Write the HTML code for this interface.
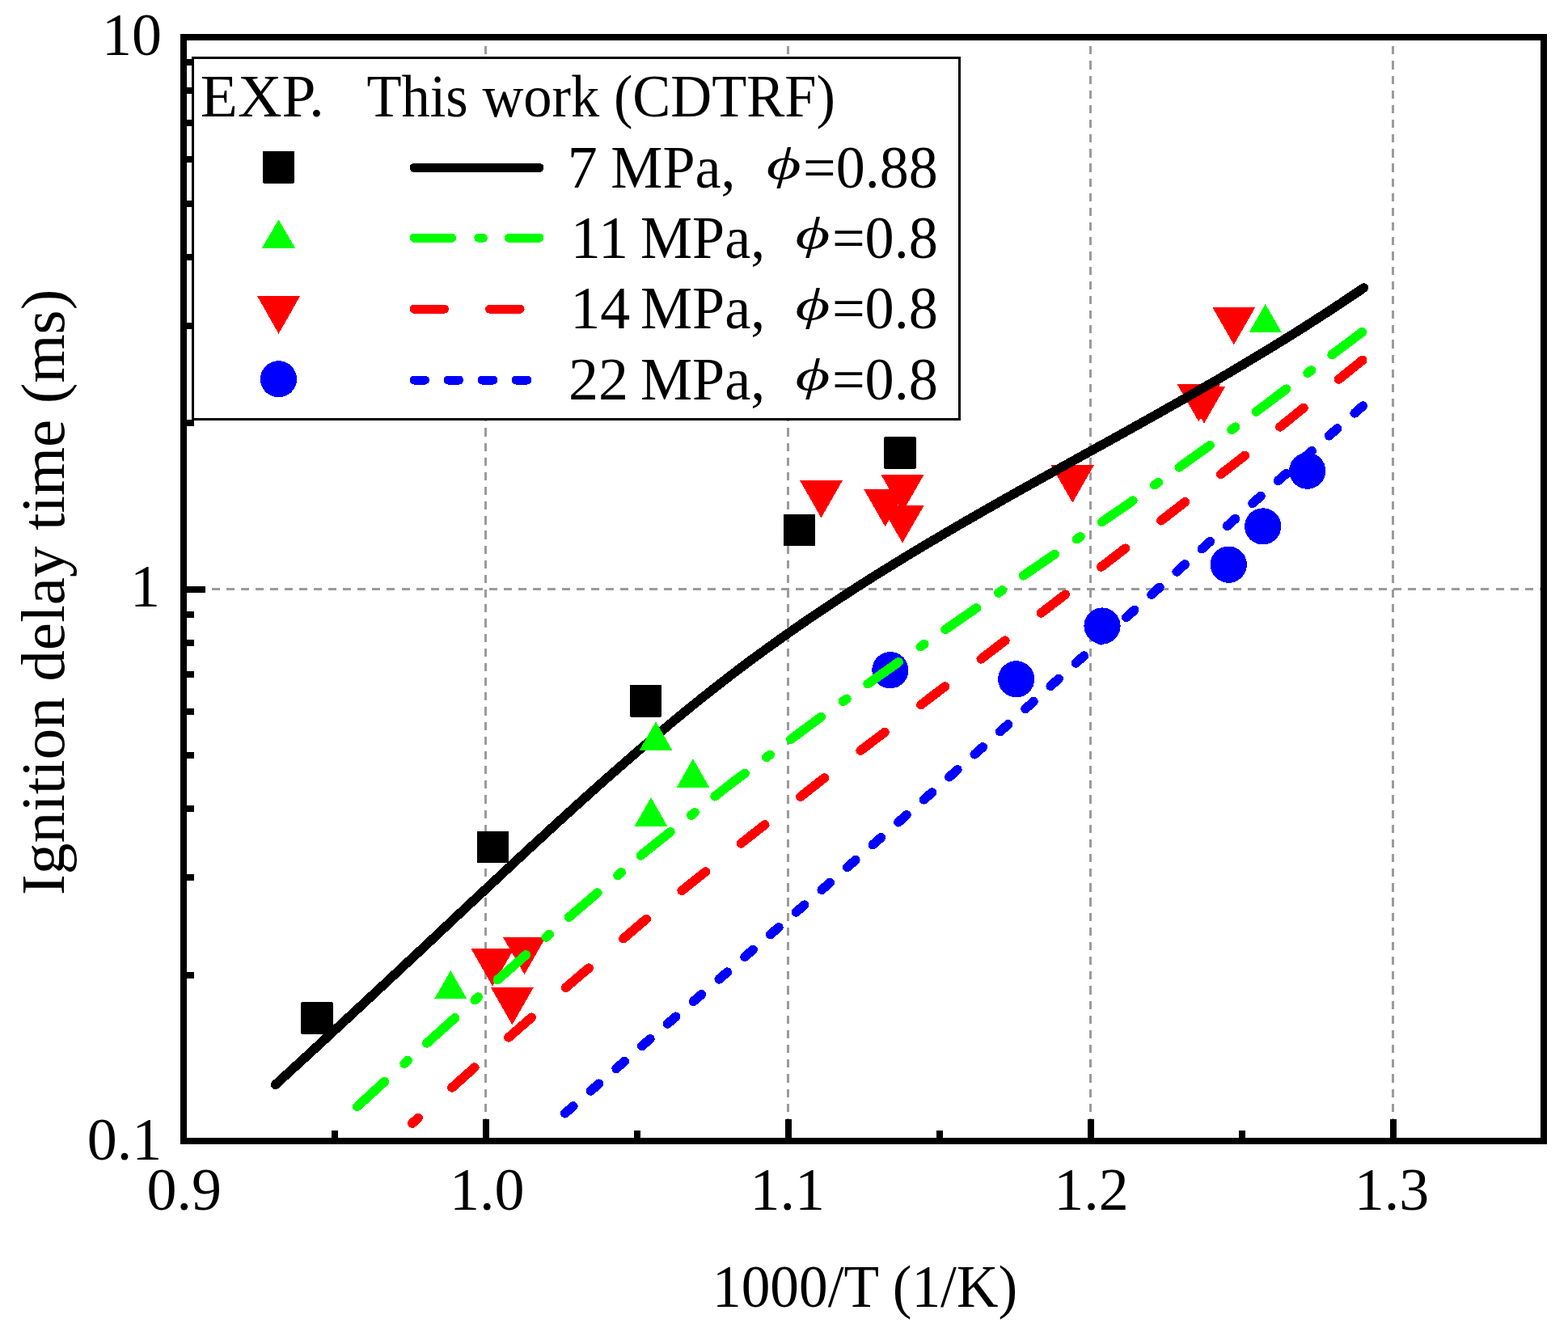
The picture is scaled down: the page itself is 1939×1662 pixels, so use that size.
<!DOCTYPE html>
<html><head><meta charset="utf-8"><title>Ignition delay time</title>
<style>html,body{margin:0;padding:0;background:#fff;}svg{display:block;}
text{font-family:"Liberation Serif",serif;fill:#000;}</style></head>
<body>
<svg width="1939" height="1662" viewBox="0 0 1939 1662" shape-rendering="crispEdges">
<rect x="0" y="0" width="1939" height="1662" fill="#fff"/>
<g stroke="#9b9b9b" stroke-width="3" fill="none">
<line x1="600.5" y1="50" x2="600.5" y2="1407" stroke-dasharray="10.2 7.96" stroke-dashoffset="-7.2"/>
<line x1="974.5" y1="50" x2="974.5" y2="1407" stroke-dasharray="10.2 7.96" stroke-dashoffset="-7.2"/>
<line x1="1348.5" y1="50" x2="1348.5" y2="1407" stroke-dasharray="10.2 7.96" stroke-dashoffset="-7.2"/>
<line x1="1722.5" y1="50" x2="1722.5" y2="1407" stroke-dasharray="10.2 7.96" stroke-dashoffset="-7.2"/>
<line x1="231" y1="728.5" x2="1905" y2="728.5" stroke-dasharray="10 8.04" stroke-dashoffset="-12.96"/>
</g>
<rect x="372.2" y="1239.2" width="39.5" height="39.5" rx="1.5" fill="#000"/>
<rect x="589.8" y="1027.5" width="39.5" height="39.5" rx="1.5" fill="#000"/>
<rect x="778.8" y="847.2" width="39.5" height="39.5" rx="1.5" fill="#000"/>
<rect x="968.6" y="635.5" width="39.5" height="39.5" rx="1.5" fill="#000"/>
<rect x="1093.2" y="540.2" width="39.5" height="39.5" rx="1.5" fill="#000"/>
<polygon points="582.6,1173.3 635.6,1173.3 609.1,1219.6" fill="#ff0000"/>
<polygon points="622.0,1158.9 675.0,1158.9 648.5,1205.2" fill="#ff0000"/>
<polygon points="606.9,1221.0 659.9,1221.0 633.4,1267.3" fill="#ff0000"/>
<polygon points="989.0,594.0 1042.0,594.0 1015.5,640.3" fill="#ff0000"/>
<polygon points="1068.2,605.1 1121.2,605.1 1094.7,651.4" fill="#ff0000"/>
<polygon points="1089.5,587.2 1142.5,587.2 1116.0,633.5" fill="#ff0000"/>
<polygon points="1089.5,625.3 1142.5,625.3 1116.0,671.6" fill="#ff0000"/>
<polygon points="1299.8,575.4 1352.8,575.4 1326.3,621.7" fill="#ff0000"/>
<polygon points="1455.8,475.3 1508.8,475.3 1482.3,521.6" fill="#ff0000"/>
<polygon points="1462.5,477.5 1515.5,477.5 1489.0,523.8" fill="#ff0000"/>
<polygon points="1499.3,380.0 1552.3,380.0 1525.8,426.3" fill="#ff0000"/>
<circle cx="1100.9" cy="828.7" r="22.6" fill="#0000ff"/>
<circle cx="1256.7" cy="839.8" r="22.6" fill="#0000ff"/>
<circle cx="1363.0" cy="774.0" r="22.6" fill="#0000ff"/>
<circle cx="1519.3" cy="698.2" r="22.6" fill="#0000ff"/>
<circle cx="1561.7" cy="650.9" r="22.6" fill="#0000ff"/>
<circle cx="1616.7" cy="582.2" r="22.6" fill="#0000ff"/>
<polyline points="340.6,1341.4 355.7,1327.5 370.8,1313.7 386.0,1299.7 401.1,1285.8 416.2,1271.8 431.3,1257.8 446.4,1243.8 461.6,1229.7 476.7,1215.6 491.8,1201.5 506.9,1187.3 522.1,1173.2 537.2,1159.0 552.3,1144.8 567.4,1130.6 582.5,1116.4 597.7,1102.3 612.8,1088.2 627.9,1074.1 643.0,1060.0 658.1,1046.0 673.3,1032.1 688.4,1018.2 703.5,1004.5 718.6,990.8 733.8,977.2 748.9,963.8 764.0,950.5 779.1,937.3 794.2,924.3 809.4,911.4 824.5,898.7 839.6,886.1 854.7,873.8 869.8,861.6 885.0,849.7 900.1,837.9 915.2,826.4 930.3,815.1 945.5,804.0 960.6,793.1 975.7,782.4 990.8,771.9 1005.9,761.5 1021.1,751.4 1036.2,741.4 1051.3,731.5 1066.4,721.8 1081.5,712.2 1096.7,702.8 1111.8,693.5 1126.9,684.3 1142.0,675.2 1157.2,666.2 1172.3,657.3 1187.4,648.5 1202.5,639.8 1217.6,631.1 1232.8,622.5 1247.9,613.9 1263.0,605.4 1278.1,597.0 1293.2,588.6 1308.4,580.2 1323.5,571.8 1338.6,563.4 1353.7,555.0 1368.9,546.7 1384.0,538.3 1399.1,529.9 1414.2,521.4 1429.3,513.0 1444.5,504.4 1459.6,495.9 1474.7,487.2 1489.8,478.5 1504.9,469.8 1520.1,460.9 1535.2,452.0 1550.3,442.9 1565.4,433.8 1580.6,424.5 1595.7,415.2 1610.8,405.7 1625.9,396.0 1641.0,386.3 1656.2,376.3 1671.3,366.2 1686.4,356.0" fill="none" stroke="#000000" stroke-width="11.5" stroke-linecap="round" stroke-linejoin="round"/>
<polygon points="557.3,1199.9 577.5,1235.4 537.0,1235.4" fill="#00ff00"/>
<polygon points="811.0,892.2 831.2,927.7 790.8,927.7" fill="#00ff00"/>
<polygon points="857.0,938.1 877.2,973.6 836.8,973.6" fill="#00ff00"/>
<polygon points="805.0,986.0 825.2,1021.5 784.8,1021.5" fill="#00ff00"/>
<polygon points="1564.8,375.8 1585.0,411.3 1544.5,411.3" fill="#00ff00"/>
<polyline points="441.7,1368.5 509.8,1306.2 601.0,1224.3 696.9,1139.9 797.8,1053.5 904.2,968.8 1016.6,885.6 1135.3,801.8 1261.0,714.9 1394.3,623.8 1536.0,522.1 1687.0,408.8" fill="none" stroke="#00ff00" stroke-width="11.5" stroke-linecap="round" stroke-linejoin="round" stroke-dasharray="46.7 33.1 5.5 32" stroke-dashoffset="0.72"/>
<defs><clipPath id="pc"><rect x="231" y="50" width="1674" height="1357"/></clipPath></defs>
<g clip-path="url(#pc)"><polyline points="509.7,1389.1 601.0,1307.3 696.9,1223.6 797.8,1137.7 904.2,1052.5 1016.6,964.2 1135.3,874.3 1261.0,778.4 1394.3,676.0 1536.0,566.0 1687.0,443.6" fill="none" stroke="#ff0000" stroke-width="11.5" stroke-linecap="round" stroke-linejoin="round" stroke-dasharray="37.5 56.1" stroke-dashoffset="27.51"/></g>
<polyline points="698.6,1376.9 797.8,1290.1 904.2,1197.9 1016.6,1100.0 1135.3,995.3 1261.0,883.0 1394.3,762.1 1536.0,633.8 1687.0,500.5" fill="none" stroke="#0000ff" stroke-width="11.5" stroke-linecap="round" stroke-linejoin="round" stroke-dasharray="13.5 28.6" stroke-dashoffset="41.96"/>
<rect x="227" y="46" width="1682" height="1365" fill="none" stroke="#000" stroke-width="8"/>
<path d="M231 1205.5H240 M231 1085.4H240 M231 1000.1H240 M231 934.0H240 M231 879.9H240 M231 834.2H240 M231 794.6H240 M231 759.7H240 M231 523.0H240 M231 402.9H240 M231 317.6H240 M231 251.5H240 M231 197.4H240 M231 151.7H240 M231 112.1H240 M231 77.2H240 M231 728.5H254 M414.0 1407V1398 M788.0 1407V1398 M1162.0 1407V1398 M1536.0 1407V1398 M601.0 1407V1384 M975.0 1407V1384 M1349.0 1407V1384 M1723.0 1407V1384" stroke="#000" stroke-width="8" fill="none"/>
<rect x="238.5" y="71.5" width="948" height="447" fill="#fff" stroke="#000" stroke-width="3"/>
<rect x="324.8" y="187.2" width="39.5" height="39.5" rx="1.5" fill="#000"/>
<polygon points="344.5,271.6 365.0,306.6 324.0,306.6" fill="#00ff00"/>
<polygon points="318.0,365.9 371.2,365.9 344.6,412.9" fill="#ff0000"/>
<circle cx="344.5" cy="468.8" r="22.6" fill="#0000ff"/>
<line x1="512" y1="207.4" x2="667" y2="207.4" stroke="#000" stroke-width="11" stroke-linecap="round"/>
<line x1="512" y1="294.2" x2="667" y2="294.2" stroke="#00ff00" stroke-width="11" stroke-linecap="round" stroke-dasharray="46.7 33.1 5.5 32"/>
<line x1="512" y1="382.2" x2="667" y2="382.2" stroke="#ff0000" stroke-width="11" stroke-linecap="round" stroke-dasharray="37.5 56.1"/>
<line x1="512" y1="470" x2="667" y2="470" stroke="#0000ff" stroke-width="11" stroke-linecap="round" stroke-dasharray="13.5 28.6"/>
<text x="247.8" y="144.4" font-size="73" textLength="153.1" lengthAdjust="spacingAndGlyphs" xml:space="preserve">EXP.</text>
<text x="453.5" y="144.4" font-size="73" textLength="579.5" lengthAdjust="spacingAndGlyphs" xml:space="preserve">This work (CDTRF)</text>
<text x="701.8" y="232.4" font-size="74" xml:space="preserve">7</text>
<text x="705.8" y="318.5" font-size="74" xml:space="preserve">11</text>
<text x="705.3" y="406.3" font-size="74" xml:space="preserve">14</text>
<text x="703.1" y="493.5" font-size="74" xml:space="preserve">22</text>
<text x="755.3" y="232.4" font-size="74" textLength="154.2" lengthAdjust="spacingAndGlyphs" xml:space="preserve">MPa,</text>
<text x="792.0" y="318.5" font-size="74" textLength="154.2" lengthAdjust="spacingAndGlyphs" xml:space="preserve">MPa,</text>
<text x="792.0" y="406.3" font-size="74" textLength="154.2" lengthAdjust="spacingAndGlyphs" xml:space="preserve">MPa,</text>
<text x="792.0" y="493.5" font-size="74" textLength="154.2" lengthAdjust="spacingAndGlyphs" xml:space="preserve">MPa,</text>
<text transform="translate(947.7,220.8) scale(1.12,0.75)" font-size="74" font-style="italic">&#981;</text>
<text transform="translate(983.6,306.9) scale(1.12,0.75)" font-size="74" font-style="italic">&#981;</text>
<text transform="translate(983.6,394.7) scale(1.12,0.75)" font-size="74" font-style="italic">&#981;</text>
<text transform="translate(983.6,481.9) scale(1.12,0.75)" font-size="74" font-style="italic">&#981;</text>
<text x="993.1" y="232.4" font-size="74" textLength="166.6" lengthAdjust="spacingAndGlyphs" xml:space="preserve">=0.88</text>
<text x="1028.9" y="318.5" font-size="74" textLength="130.9" lengthAdjust="spacingAndGlyphs" xml:space="preserve">=0.8</text>
<text x="1028.9" y="406.3" font-size="74" textLength="130.9" lengthAdjust="spacingAndGlyphs" xml:space="preserve">=0.8</text>
<text x="1028.9" y="493.5" font-size="74" textLength="130.9" lengthAdjust="spacingAndGlyphs" xml:space="preserve">=0.8</text>
<text x="126.0" y="68.0" font-size="74" xml:space="preserve">10</text>
<text x="161.0" y="750.0" font-size="74" xml:space="preserve">1</text>
<text x="107.8" y="1434.0" font-size="74" xml:space="preserve">0.1</text>
<text x="181.5" y="1496.0" font-size="74" xml:space="preserve">0.9</text>
<text x="555.9" y="1496.0" font-size="74" xml:space="preserve">1.0</text>
<text x="927.6" y="1496.0" font-size="74" xml:space="preserve">1.1</text>
<text x="1303.3" y="1496.0" font-size="74" xml:space="preserve">1.2</text>
<text x="1674.8" y="1496.0" font-size="74" xml:space="preserve">1.3</text>
<text x="881.0" y="1616.0" font-size="74" textLength="377.2" lengthAdjust="spacingAndGlyphs" xml:space="preserve">1000/T (1/K)</text>
<text transform="translate(78.9,1106.9) rotate(-90)" x="0" y="0" font-size="77" textLength="749.3" lengthAdjust="spacingAndGlyphs">Ignition delay time (ms)</text>
</svg>
</body></html>
